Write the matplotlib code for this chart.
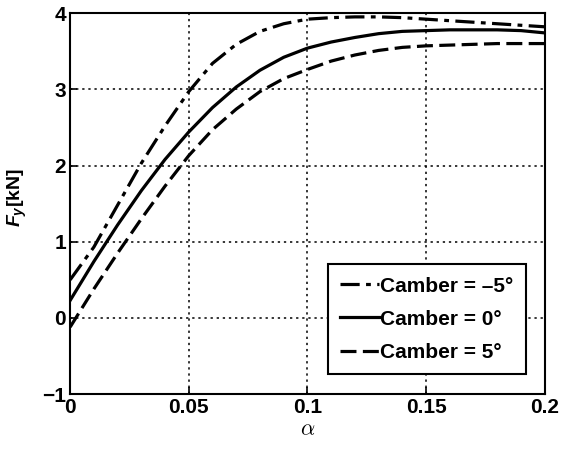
import numpy as np
import matplotlib.pyplot as plt

plt.rcParams['font.family'] = 'Liberation Sans'
plt.rcParams['font.weight'] = 'bold'
plt.rcParams['mathtext.fontset'] = 'custom'
plt.rcParams['mathtext.it'] = 'Liberation Sans:bold:italic'
plt.rcParams['mathtext.rm'] = 'Liberation Sans:bold'

alpha = [0, 0.01, 0.02, 0.03, 0.04, 0.05, 0.06, 0.07, 0.08, 0.09, 0.10,
         0.11, 0.12, 0.13, 0.14, 0.15, 0.16, 0.17, 0.18, 0.19, 0.20]
fy_neg5 = [0.5, 0.93, 1.48, 2.03, 2.52, 2.97, 3.34, 3.59, 3.76, 3.86, 3.92,
           3.94, 3.95, 3.95, 3.94, 3.92, 3.9, 3.88, 3.86, 3.84, 3.82]
fy_0 = [0.23, 0.74, 1.22, 1.67, 2.08, 2.44, 2.76, 3.03, 3.25, 3.42, 3.54,
        3.62, 3.68, 3.73, 3.76, 3.77, 3.78, 3.78, 3.78, 3.77, 3.74]
fy_pos5 = [-0.12, 0.38, 0.85, 1.3, 1.73, 2.13, 2.47, 2.74, 2.97, 3.14, 3.26,
           3.37, 3.45, 3.51, 3.55, 3.57, 3.58, 3.59, 3.6, 3.6, 3.6]
labels = ['Camber = \u20135\u00b0', 'Camber = 0\u00b0', 'Camber = 5\u00b0']

fig = plt.figure(figsize=(5.61, 4.51), dpi=100)
ax = fig.add_axes([0.125, 0.126, 0.846, 0.845])

ax.plot(alpha, fy_neg5, color='k', lw=2.3, linestyle=(0, (6, 2, 1.5, 2)), label=labels[0])
ax.plot(alpha, fy_0, color='k', lw=2.3, linestyle='-', label=labels[1])
ax.plot(alpha, fy_pos5, color='k', lw=2.3, linestyle=(0, (5, 2)), label=labels[2])

ax.set_xlim(0, 0.2)
ax.set_ylim(-1, 4)
ax.set_xticks([0, 0.05, 0.1, 0.15, 0.2])
ax.set_xticklabels(['0', '0.05', '0.1', '0.15', '0.2'])
ax.set_yticks([-1, 0, 1, 2, 3, 4])
ax.set_yticklabels(['\u22121', '0', '1', '2', '3', '4'])
ax.tick_params(direction='in', labelsize=15, length=5, width=1.2, pad=3)
ax.grid(True, color='k', linestyle=(0, (1.5, 2.5)), linewidth=1.1)
for s in ax.spines.values():
    s.set_linewidth(1.5)

ax.set_xlabel(r'$\alpha$', fontsize=16, math_fontfamily='cm', labelpad=1)
ax.set_ylabel(r'$F_y$[kN]', fontsize=14, fontweight='bold')
ax.yaxis.set_label_coords(-0.086, 0.515)

leg = ax.legend(loc='lower right', bbox_to_anchor=(0.96, 0.052), borderaxespad=0,
                fancybox=False, edgecolor='k', fontsize=15, handlelength=1.85,
                handletextpad=0.05, borderpad=0.6, labelspacing=0.68, framealpha=1)
leg.get_frame().set_linewidth(1.5)

fig.savefig('out.png', dpi=100)
